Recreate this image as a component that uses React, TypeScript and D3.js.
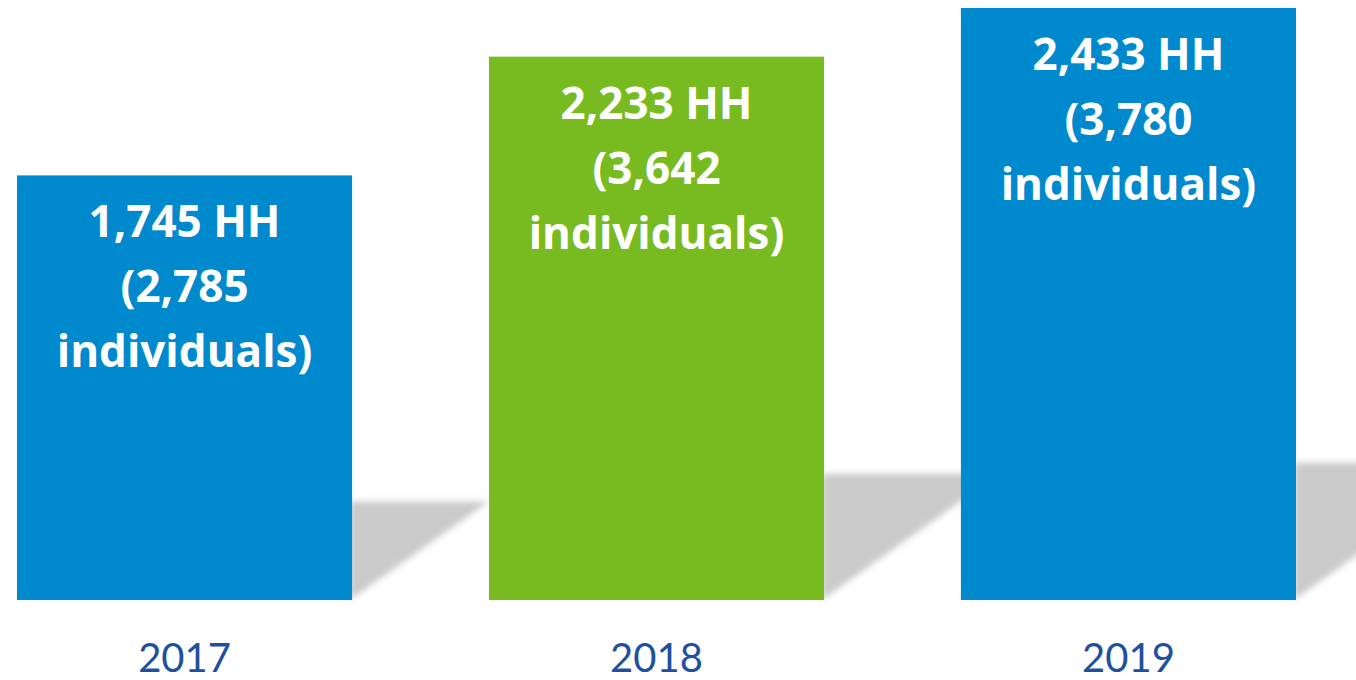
import React from "react";
import * as d3 from "d3";

const years = ["2017", "2018", "2019"];
const households = [1745, 2233, 2433];
const individuals = [2785, 3642, 3780];
const barColors = ["#0089CC", "#78BB21", "#0089CC"];

const W = 1356;
const H = 680;

export default function App() {
  const x = d3.scaleBand<string>().domain(years).range([17, 1296]).paddingInner(0.29).paddingOuter(0);
  const y = d3.scaleLinear().domain([0, d3.max(households) as number]).range([600, 8]);
  const fmt = d3.format(",");
  const bw = x.bandwidth();

  return (
    <svg width={W} height={H} style={{ position: "absolute", left: 0, top: 0, background: "#fff" }}>
      <defs>
        <filter id="blur" x="-20%" y="-20%" width="140%" height="140%">
          <feGaussianBlur stdDeviation="3" />
        </filter>
      </defs>
      {/* shadows */}
      {years.map((yr, i) => {
        const xr = (x(yr) as number) + bw;
        const yb = y(0);
        const sh = (y(0) - y(households[i])) * 0.232;
        const ys = yb - sh;
        const dx = sh / 0.72;
        const pts = [
          [xr - 2, yb],
          [xr - 2, ys],
          [xr + dx, ys],
        ];
        return (
          <polygon
            key={"s" + yr}
            points={pts.map((p) => p.join(",")).join(" ")}
            fill="#cacaca"
            filter="url(#blur)"
          />
        );
      })}
      {/* bars */}
      {years.map((yr, i) => (
        <rect
          key={"b" + yr}
          x={x(yr)}
          y={y(households[i])}
          width={bw}
          height={y(0) - y(households[i])}
          fill={barColors[i]}
        />
      ))}
      {/* labels inside bars */}
      {years.map((yr, i) => {
        const cx = (x(yr) as number) + bw / 2;
        const top = y(households[i]);
        const lines = [`${fmt(households[i])} HH`, `(${fmt(individuals[i])}`, "individuals)"];
        return (
          <text
            key={"t" + yr}
            textAnchor="middle"
            fill="#fff"
            fontFamily="'Open Sans', sans-serif"
            fontWeight="bold"
            fontSize={44}
          >
            {lines.map((l, j) => (
              <tspan key={j} x={cx} y={top + 62 + j * 65}>
                {l}
              </tspan>
            ))}
          </text>
        );
      })}
      {/* year labels */}
      {years.map((yr) => (
        <text
          key={"y" + yr}
          x={(x(yr) as number) + bw / 2}
          y={672}
          textAnchor="middle"
          fill="#1E4FA0"
          fontFamily="Lato, 'Open Sans', sans-serif"
          fontSize={40}
        >
          {yr}
        </text>
      ))}
    </svg>
  );
}
